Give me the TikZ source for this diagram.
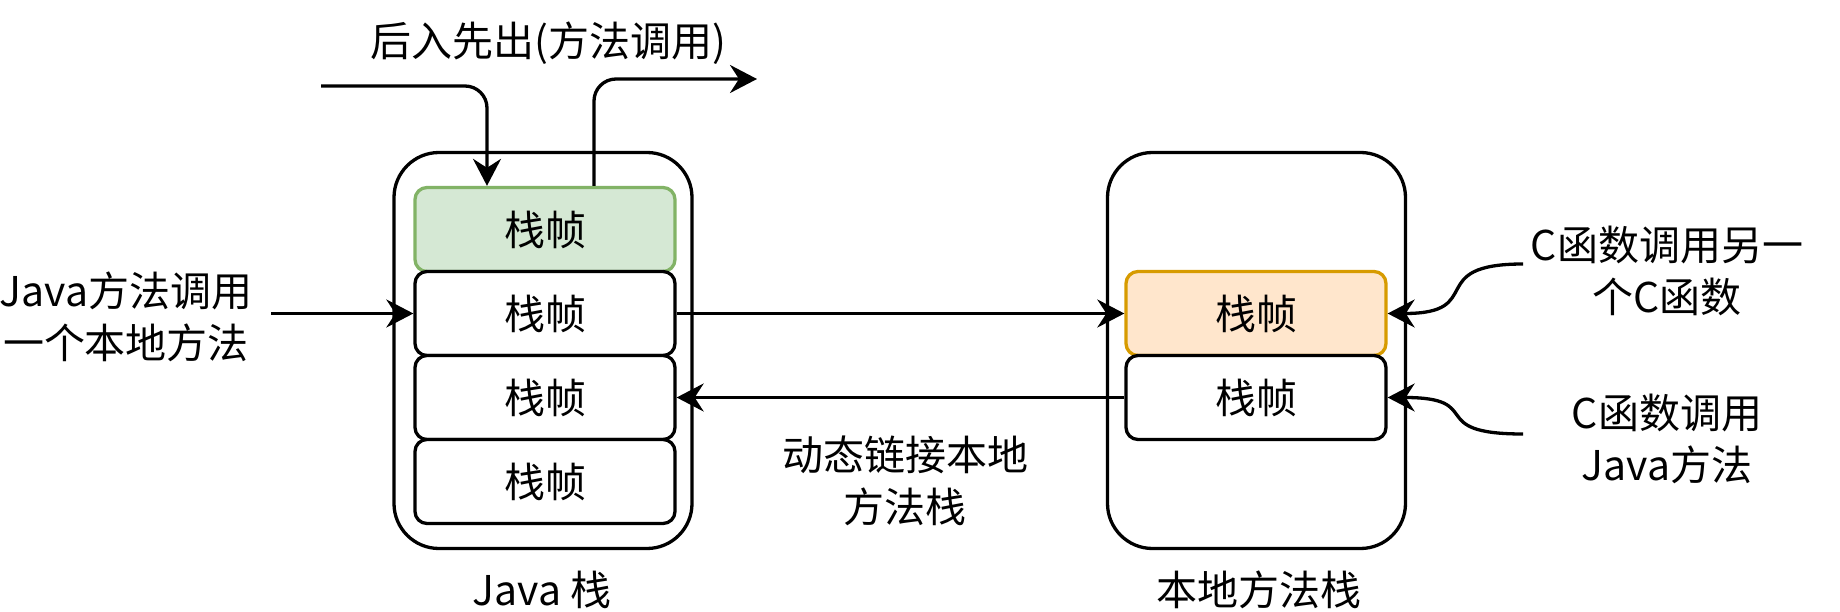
\documentclass[tikz,border=0pt]{standalone}
\usepackage{fontspec}
\setmainfont{Noto Sans CJK SC}
\usetikzlibrary{arrows.meta,calc}
\definecolor{gfill}{HTML}{D5E8D4}
\definecolor{gline}{HTML}{82B366}
\definecolor{ofill}{HTML}{FFE6CC}
\definecolor{oline}{HTML}{D79B00}
\newcommand\bigtxt{\fontsize{41pt}{52pt}\selectfont}
\begin{document}
\begin{tikzpicture}[x=1pt,y=-1pt,
  stackbox/.style={draw, line width=3.3pt, rounded corners=45pt, minimum width=298pt, minimum height=396pt, inner sep=0pt},
  frame/.style={draw, line width=3.3pt, rounded corners=12pt, minimum width=260pt, minimum height=84pt, fill=white, inner sep=0pt, font=\bigtxt},
  lbl/.style={font=\bigtxt, align=center, inner sep=0pt},
  arr/.style={line width=3.3pt, -{Stealth[length=27pt,width=28pt,inset=9pt]}}]
\useasboundingbox (0,0) rectangle (1840,612);
% outer stacks
\node[stackbox] (jstack) at (543,350.5) {};
\node[stackbox] (nstack) at (1256.5,350.5) {};
% java frames
\node[frame, fill=gfill, draw=gline] (f1) at (545,229.5) {栈帧};
\node[frame] (f2) at (545,313.5) {栈帧};
\node[frame] (f3) at (545,397.5) {栈帧};
\node[frame] (f4) at (545,481.5) {栈帧};
% native frames
\node[frame, fill=ofill, draw=oline] (n1) at (1256,313.5) {栈帧};
\node[frame] (n2) at (1256,397.5) {栈帧};
% labels
\node[lbl] (ttop) at (548,43) {后入先出(方法调用)};
\node[lbl] (tjava) at (126,316.5) {Java方法调用\\一个本地方法};
\node[lbl] (tdyn) at (905,481) {动态链接本地\\方法栈};
\node[lbl] (tc1) at (1667,271) {C函数调用另一\\个C函数};
\node[lbl] (tc2) at (1667,439) {C函数调用\\Java方法};
\node[lbl] (tjs) at (542,590) {Java 栈};
\node[lbl] (tns) at (1259,590) {本地方法栈};
% coordinates for free ends
\coordinate (inS) at (321,86);
\coordinate (outE) at (757,79);
\coordinate (jS) at (271,313.5);
\coordinate (c1S) at (1523,264);
\coordinate (c2S) at (1523,434);
% connectors
\draw[arr, rounded corners=22pt] (inS) -| ([xshift=-58pt]f1.north);
\draw[arr, rounded corners=22pt] ([xshift=49pt]f1.north) |- (outE);
\draw[arr] (jS) -- (f2.west);
\draw[arr] (f2.east) -- (n1.west);
\draw[arr] (n2.west) -- (f3.east);
\draw[arr] (c1S) .. controls +(-100,0) and +(100,0) .. (n1.east);
\draw[arr] (c2S) .. controls +(-100,0) and +(100,0) .. (n2.east);
\end{tikzpicture}
\end{document}
